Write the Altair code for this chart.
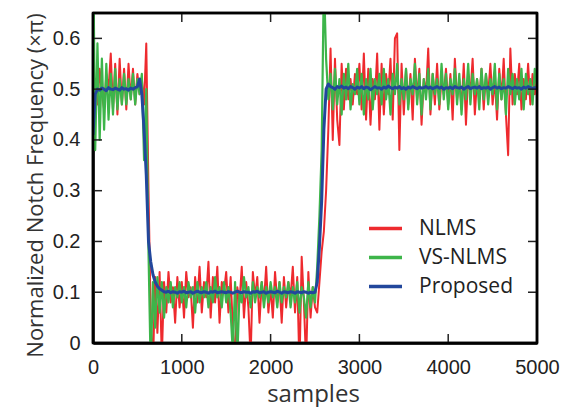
import altair as alt
import pandas as pd

# sample index (every 25 samples)
samples = list(range(0, 5001, 25))

nlms = [
    0.48, 0.52, 0.47, 0.54, 0.49, 0.46, 0.53, 0.50, 0.57, 0.46,
    0.55, 0.45, 0.56, 0.47, 0.54, 0.46, 0.55, 0.48, 0.54, 0.47,
    0.53, 0.49, 0.52, 0.47, 0.59, 0.30, 0.05, -0.05, 0.13, 0.02,
    0.14, -0.03, 0.12, 0.06, 0.14, 0.08, 0.11, 0.04, 0.13, 0.07,
    0.12, 0.05, 0.14, 0.09, 0.11, 0.03, 0.13, 0.08, 0.15, 0.06,
    0.12, 0.09, 0.16, 0.05, 0.13, 0.08, 0.15, 0.04, 0.12, 0.10,
    0.14, 0.06, 0.13, 0.03, -0.04, 0.11, 0.08, 0.15, 0.05, 0.12,
    0.07, -0.03, 0.14, 0.09, 0.13, 0.04, 0.12, 0.08, 0.15, 0.06,
    0.11, 0.05, 0.14, 0.08, 0.12, 0.04, 0.13, 0.07, 0.12, 0.09,
    0.15, 0.06, 0.13, -0.05, 0.17, 0.08, -0.04, 0.14, 0.05, 0.11,
    0.07, 0.06, 0.12, 0.18, 0.22, 0.30, 0.42, 0.58, 0.40, 0.56,
    0.44, 0.39, 0.55, 0.46, 0.54, 0.48, 0.52, 0.47, 0.53, 0.49,
    0.55, 0.46, 0.57, 0.44, 0.54, 0.43, 0.52, 0.48, 0.57, 0.42,
    0.55, 0.45, 0.53, 0.49, 0.56, 0.44, 0.60, 0.61, 0.38, 0.55,
    0.45, 0.54, 0.47, 0.53, 0.44, 0.56, 0.48, 0.54, 0.43, 0.52,
    0.49, 0.58, 0.45, 0.53, 0.47, 0.55, 0.46, 0.52, 0.49, 0.54,
    0.47, 0.53, 0.44, 0.56, 0.48, 0.52, 0.46, 0.55, 0.43, 0.53,
    0.49, 0.56, 0.45, 0.52, 0.48, 0.54, 0.46, 0.53, 0.49, 0.55,
    0.47, 0.52, 0.44, 0.54, 0.48, 0.56, 0.45, 0.37, 0.58, 0.47,
    0.53, 0.49, 0.55, 0.46, 0.52, 0.48, 0.55, 0.47, 0.53, 0.49,
    0.52,
]

vs_nlms = [
    0.80, 0.38, 0.59, 0.40, 0.56, 0.42, 0.55, 0.44, 0.53, 0.45,
    0.54, 0.46, 0.52, 0.47, 0.53, 0.47, 0.52, 0.48, 0.53, 0.47,
    0.52, 0.49, 0.53, 0.36, 0.50, 0.18, -0.05, 0.12, 0.03, 0.13,
    0.06, 0.12, 0.05, 0.11, 0.08, 0.12, 0.07, 0.11, 0.09, 0.12,
    0.08, 0.11, 0.07, 0.12, 0.09, 0.11, 0.06, 0.12, 0.08, 0.11,
    0.09, 0.12, 0.07, 0.11, 0.08, 0.13, 0.09, 0.11, 0.07, 0.12,
    0.08, 0.11, 0.06, -0.02, 0.12, -0.03, 0.10, 0.08, 0.13, 0.09,
    0.11, 0.07, 0.12, 0.08, 0.11, 0.09, 0.12, 0.07, 0.11, 0.08,
    0.12, 0.09, 0.11, 0.07, 0.12, 0.08, 0.11, 0.09, 0.12, 0.07,
    0.11, 0.08, 0.12, 0.06, 0.11, 0.09, 0.05, 0.12, 0.07, 0.11,
    0.08, 0.15, 0.25, 0.38, 0.72, 0.56, 0.48, 0.53, 0.46, 0.54,
    0.47, 0.52, 0.45, 0.53, 0.48, 0.55, 0.46, 0.51, 0.49, 0.54,
    0.47, 0.53, 0.45, 0.52, 0.48, 0.54, 0.46, 0.52, 0.49, 0.53,
    0.47, 0.54, 0.48, 0.52, 0.45, 0.53, 0.49, 0.55, 0.47, 0.52,
    0.48, 0.54, 0.46, 0.52, 0.49, 0.55, 0.47, 0.53, 0.45, 0.52,
    0.48, 0.54, 0.46, 0.53, 0.49, 0.52, 0.47, 0.55, 0.48, 0.53,
    0.46, 0.52, 0.49, 0.54, 0.47, 0.53, 0.45, 0.52, 0.48, 0.55,
    0.47, 0.53, 0.49, 0.52, 0.46, 0.54, 0.48, 0.53, 0.47, 0.52,
    0.49, 0.55, 0.46, 0.53, 0.48, 0.52, 0.45, 0.54, 0.49, 0.53,
    0.47, 0.52, 0.48, 0.54, 0.46, 0.53, 0.49, 0.52, 0.47, 0.54,
    0.50,
]

proposed = [
    0.41, 0.49, 0.50, 0.498, 0.502, 0.50, 0.497, 0.503, 0.50, 0.499,
    0.502, 0.50, 0.498, 0.503, 0.50, 0.501, 0.498, 0.502, 0.50, 0.503,
    0.505, 0.52, 0.49, 0.42, 0.33, 0.20, 0.16, 0.135, 0.12, 0.112,
    0.107, 0.104, 0.101, 0.10, 0.102, 0.099, 0.101, 0.10, 0.098, 0.101,
    0.10, 0.102, 0.099, 0.10, 0.101, 0.098, 0.10, 0.102, 0.10, 0.099,
    0.101, 0.10, 0.098, 0.101, 0.10, 0.102, 0.099, 0.10, 0.101, 0.10,
    0.099, 0.101, 0.10, 0.098, 0.10, 0.102, 0.10, 0.099, 0.101, 0.10,
    0.10, 0.098, 0.101, 0.10, 0.102, 0.099, 0.10, 0.101, 0.098, 0.10,
    0.101, 0.10, 0.099, 0.102, 0.10, 0.098, 0.101, 0.10, 0.099, 0.101,
    0.10, 0.098, 0.101, 0.10, 0.099, 0.101, 0.10, 0.098, 0.10, 0.099,
    0.10, 0.12, 0.19, 0.28, 0.42, 0.50, 0.51, 0.505, 0.503, 0.50,
    0.505, 0.503, 0.506, 0.502, 0.504, 0.501, 0.505, 0.503, 0.500, 0.504,
    0.502, 0.505, 0.501, 0.504, 0.503, 0.499, 0.502, 0.505, 0.502, 0.503,
    0.500, 0.504, 0.502, 0.506, 0.503, 0.501, 0.504, 0.502, 0.505, 0.501,
    0.503, 0.500, 0.504, 0.502, 0.505, 0.503, 0.501, 0.504, 0.502, 0.503,
    0.505, 0.502, 0.504, 0.501, 0.503, 0.505, 0.502, 0.504, 0.500, 0.503,
    0.502, 0.504, 0.501, 0.505, 0.503, 0.502, 0.504, 0.500, 0.503, 0.505,
    0.501, 0.503, 0.504, 0.502, 0.505, 0.501, 0.503, 0.502, 0.504, 0.500,
    0.503, 0.505, 0.502, 0.504, 0.501, 0.503, 0.502, 0.505, 0.503, 0.501,
    0.504, 0.502, 0.503, 0.500, 0.504, 0.502, 0.505, 0.503, 0.501, 0.503,
    0.502,
]

series_names = ["NLMS", "VS-NLMS", "Proposed"]
series_colors = ["#EE2A2E", "#3DB54A", "#22479C"]
y_ticks = [0.1, 0.2, 0.3, 0.4, 0.5, 0.6]
x_ticks = [1000, 2000, 3000, 4000]
y_labels = [0, 0.1, 0.2, 0.3, 0.4, 0.5, 0.6]
x_labels = [0, 1000, 2000, 3000, 4000, 5000]
x_domain = [0, 5000]
y_domain = [0, 0.65]

W, H = 444, 330
TICK = 9
ink = "#222"
frame_ink = "black"

x_scale = alt.Scale(domain=x_domain, nice=False, zero=False)
y_scale = alt.Scale(domain=y_domain, nice=False, zero=False)
color_scale = alt.Scale(domain=series_names, range=series_colors)

x_axis = alt.Axis(
    values=x_labels, format="d", title="samples", grid=False, ticks=False,
    domain=True, domainColor=frame_ink, domainWidth=2.5,
    labelFlush=False, labelFont="Liberation Sans",
    labelFontSize=20, labelColor=ink, labelPadding=14,
    titleFont="Open Sans", titleFontSize=24, titleFontWeight="normal",
    titleColor="#333", titleX=220, titleY=58, titleBaseline="alphabetic",
)
y_axis = alt.Axis(
    values=y_labels, title="Normalized Notch Frequency   (×π)",
    labelExpr="datum.value == 0 ? '0' : format(datum.value, '.1f')",
    grid=False, ticks=False, domain=True, domainColor=frame_ink, domainWidth=2.5,
    labelFont="Liberation Sans",
    labelFontSize=20, labelColor=ink, labelPadding=13,
    titleFont="Open Sans", titleFontSize=22, titleFontWeight="normal",
    titleColor="#333", titleX=-51, titleY=172, titleAlign="center",
    titleBaseline="alphabetic", titleAngle=270, titleLimit=400,
)

def series_df(name, vals):
    return pd.DataFrame({"sample": samples, "value": vals, "series": name})

legend = alt.Legend(
    title=None, orient="none", legendX=274, legendY=197,
    symbolType="stroke", symbolSize=1089, symbolStrokeWidth=3.5,
    labelFont="Open Sans", labelFontSize=21, labelColor=ink,
    labelOffset=15, padding=0, rowPadding=0,
)

def line_layer(name, vals, width):
    return alt.Chart(series_df(name, vals)).mark_line(
        clip=True, strokeWidth=width, strokeJoin="round"
    ).encode(
        x=alt.X("sample:Q", scale=x_scale, axis=x_axis),
        y=alt.Y("value:Q", scale=y_scale, axis=y_axis),
        color=alt.Color("series:N", scale=color_scale, legend=legend),
    )

red = line_layer("NLMS", nlms, 2.0)
green = line_layer("VS-NLMS", vs_nlms, 2.2)
blue = line_layer("Proposed", proposed, 3.0)

ytick_df = pd.DataFrame({"value": y_ticks})
xtick_df = pd.DataFrame({"sample": x_ticks})
yframe_df = pd.DataFrame({"value": y_domain})
xframe_df = pd.DataFrame({"sample": x_domain})

def hrules(df, x0, x1, width, color):
    return alt.Chart(df).mark_rule(color=color, strokeWidth=width).encode(
        y=alt.Y("value:Q", scale=y_scale, axis=y_axis),
        x=alt.value(x0), x2=alt.value(x1))

def vrules(df, y0, y1, width, color):
    return alt.Chart(df).mark_rule(color=color, strokeWidth=width).encode(
        x=alt.X("sample:Q", scale=x_scale, axis=x_axis),
        y=alt.value(y0), y2=alt.value(y1))

left_ticks = hrules(ytick_df, 0, TICK, 1.5, ink)
right_ticks = hrules(ytick_df, W - TICK, W, 1.5, ink)
bottom_ticks = vrules(xtick_df, H - TICK, H, 1.5, ink)
top_ticks = vrules(xtick_df, 0, TICK, 1.5, ink)
frame_h = hrules(yframe_df, 0, W, 2.5, frame_ink)
frame_v = vrules(xframe_df, 0, H, 2.5, frame_ink)

chart = alt.layer(
    red, green, blue, left_ticks, right_ticks, bottom_ticks, top_ticks,
    frame_h, frame_v,
).properties(
    width=W, height=H, background="white",
    autosize=alt.AutoSizeParams(type="none"),
    padding={"left": 85, "top": 5, "right": 25, "bottom": 64},
).configure_view(
    stroke=frame_ink, strokeWidth=2.5
)

chart.save("out.html", embed_options={"renderer": "svg", "actions": False})
